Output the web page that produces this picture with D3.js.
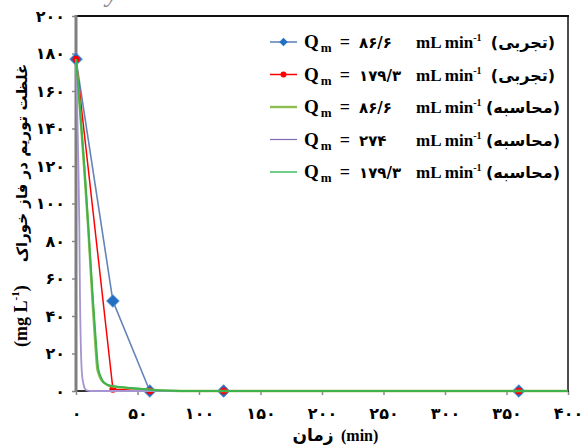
<!DOCTYPE html>
<html>
<head>
<meta charset="utf-8">
<script src="https://cdn.jsdelivr.net/npm/d3@7"></script>
<style>
  html, body { margin: 0; padding: 0; background: #fff; }
  svg { display: block; }
</style>
</head>
<body>
<svg id="chart" width="583" height="448"></svg>
<script>
// Thorium concentration in the feed phase vs. time
const xTicks = [0, 50, 100, 150, 200, 250, 300, 350, 400];
const yTicks = [0, 20, 40, 60, 80, 100, 120, 140, 160, 180, 200];

// experimental runs
const expTime = [0, 30, 60, 120, 360];
const exp86 = [177, 48, 0, 0, 0];
const exp179 = [177, 1, 0, 0, 0];

// calculated curves
const calc86Time = [0, 3, 6.5, 10, 13.5, 15.5, 17.3, 18.5, 20, 22, 24, 26, 30, 35, 45, 55, 70, 100, 200, 400];
const calc86 = [177, 152, 120, 86, 47, 27, 12, 9, 6.5, 4.8, 3.8, 3.0, 2.4, 2.0, 1.5, 0.9, 0.3, 0, 0, 0];
const calc274Time = [0, 1, 2, 2.7, 3.2, 4, 5, 6, 7, 8.7, 12, 400];
const calc274 = [177, 150, 118, 88, 52, 22, 8, 4, 1.5, 0.3, 0, 0];
const calc179Time = [0, 3, 6.7, 10, 13.8, 16, 17.8, 19, 20.5, 22, 24, 26, 30, 35, 45, 55, 70, 100, 200, 400];
const calc179 = [177, 153, 121, 88, 48.6, 28, 13, 9.5, 7, 5, 4, 3.2, 2.6, 2.2, 1.6, 1, 0.3, 0, 0, 0];

// legend entries
const legendQ = ["۸۶/۶", "۱۷۹/۳", "۸۶/۶", "۲۷۴", "۱۷۹/۳"];
const legendKind = ["(تجربی)", "(تجربی)", "(محاسبه)", "(محاسبه)", "(محاسبه)"];
const yTitle = "غلظت توریم در فاز خوراک";
const xTitle = "زمان";

const faDigits = s => String(s).replace(/\d/g, d => "۰۱۲۳۴۵۶۷۸۹"[+d]);

const svg = d3.select("#chart");
const L = 76, R = 568, T = 16, B = 391;
const x = d3.scaleLinear().domain([0, 400]).range([L, R]);
const y = d3.scaleLinear().domain([0, 200]).range([B, T]);

const digitFont = "'DejaVu Sans', sans-serif";
const serif = "'Liberation Serif', 'Times New Roman', serif";

// clipped caption fragment above the frame
svg.append("text").attr("x", 106).attr("y", 1)
  .attr("font-family", serif).attr("font-style", "italic").attr("font-size", 28)
  .attr("fill", "#8c8c8c").text("y");

// frame
svg.append("line").attr("x1", L).attr("x2", R + 1).attr("y1", T).attr("y2", T)
  .attr("stroke", "#111").attr("stroke-width", 2);
svg.append("line").attr("x1", R).attr("x2", R).attr("y1", T).attr("y2", B)
  .attr("stroke", "#111").attr("stroke-width", 1.5);

// axes
const yAxis = d3.axisLeft(y).tickValues(yTicks).tickSize(4).tickPadding(7)
  .tickFormat(faDigits);
const gy = svg.append("g").attr("transform", `translate(${L},0)`).call(yAxis);
gy.select(".domain").remove();
gy.selectAll(".tick line").attr("stroke", "#888").attr("stroke-width", 1.5);
gy.selectAll(".tick text").attr("font-family", digitFont).attr("font-weight", "bold")
  .attr("font-size", 16).attr("fill", "#000");

const xAxis = d3.axisBottom(x).tickValues(xTicks).tickSize(4).tickPadding(13)
  .tickFormat(faDigits);
const gx = svg.append("g").attr("transform", `translate(0,${B})`).call(xAxis);
gx.select(".domain").remove();
gx.selectAll(".tick line").attr("stroke", "#888").attr("stroke-width", 1.5);
gx.selectAll(".tick text").attr("font-family", digitFont).attr("font-weight", "bold")
  .attr("font-size", 16).attr("fill", "#000");

svg.append("line").attr("x1", L).attr("x2", R + 1).attr("y1", B).attr("y2", B)
  .attr("stroke", "#333").attr("stroke-width", 2);
svg.append("line").attr("x1", L).attr("x2", L).attr("y1", T - 1).attr("y2", B + 1)
  .attr("stroke", "#7f7f7f").attr("stroke-width", 3);

// series
const lineOf = (ts, vs, curve) => d3.line().x((d, i) => x(ts[i])).y(d => y(d)).curve(curve)(vs);

const cBlue = "#6484b8", cBlueMark = "#2370c2", cRed = "#ff0000",
      cOlive = "#8fbd52", cPurple = "#a594cf", cGreen = "#3fb24e";

const plot = svg.append("g");
plot.append("path").attr("d", lineOf(expTime, exp86, d3.curveLinear))
  .attr("fill", "none").attr("stroke", cBlue).attr("stroke-width", 1.6);
plot.selectAll(".dia").data(exp86).join("path")
  .attr("transform", (d, i) => `translate(${x(expTime[i])},${y(d)}) rotate(45)`)
  .attr("d", "M-4.5,-4.5H4.5V4.5H-4.5Z").attr("fill", cBlueMark)
  .attr("stroke", "#5b8fd0").attr("stroke-width", 0.8);

plot.append("path").attr("d", lineOf(expTime, exp179, d3.curveLinear))
  .attr("fill", "none").attr("stroke", cRed).attr("stroke-width", 1.5);
plot.selectAll(".dot").data(exp179).join("circle")
  .attr("cx", (d, i) => x(expTime[i])).attr("cy", d => y(d)).attr("r", 3.5)
  .attr("fill", cRed);

plot.append("path").attr("d", lineOf(calc86Time, calc86, d3.curveMonotoneX))
  .attr("fill", "none").attr("stroke", cOlive).attr("stroke-width", 2.4);
plot.append("path").attr("d", lineOf(calc274Time, calc274, d3.curveMonotoneX))
  .attr("fill", "none").attr("stroke", cPurple).attr("stroke-width", 1.8);
plot.append("path").attr("d", lineOf(calc179Time, calc179, d3.curveMonotoneX))
  .attr("fill", "none").attr("stroke", cGreen).attr("stroke-width", 2);

// legend
const legendColors = [cBlue, cRed, cOlive, "#7f6ab2", "#6fcf8a"];
const legendWidths = [1.6, 1.5, 2.4, 1.2, 2];
const lg = svg.append("g");
legendQ.forEach((q, i) => {
  const cy = 42 + i * 32.5;
  const g = lg.append("g");
  g.append("line").attr("x1", 270).attr("x2", 297).attr("y1", cy).attr("y2", cy)
    .attr("stroke", legendColors[i]).attr("stroke-width", legendWidths[i]);
  if (i === 0) {
    g.append("path").attr("transform", `translate(283.5,${cy}) rotate(45)`)
      .attr("d", "M-3,-3H3V3H-3Z").attr("fill", cBlueMark);
  } else if (i === 1) {
    g.append("circle").attr("cx", 283.5).attr("cy", cy).attr("r", 3).attr("fill", cRed);
  }
  const base = cy + 6;
  const t1 = g.append("text").attr("x", 304).attr("y", base)
    .attr("font-family", serif).attr("font-weight", "bold").attr("fill", "#000");
  t1.append("tspan").attr("font-size", 19).text("Q");
  t1.append("tspan").attr("font-size", 13).attr("dx", 2).attr("dy", 4).text("m");
  t1.append("tspan").attr("font-size", 18).attr("dx", 8).attr("dy", -4).text("=");
  g.append("text").attr("x", 359).attr("y", base)
    .attr("font-family", digitFont).attr("font-weight", "bold").attr("font-size", 15)
    .attr("fill", "#000").text(q);
  const t2 = g.append("text").attr("x", 416).attr("y", base)
    .attr("font-family", serif).attr("font-weight", "bold").attr("font-size", 17)
    .attr("fill", "#000");
  t2.append("tspan").text("mL min");
  t2.append("tspan").attr("font-size", 10).attr("dy", -7).text("-1");
  g.append("text").attr("x", 523).attr("y", base)
    .attr("text-anchor", "middle")
    .attr("font-family", digitFont).attr("font-weight", "bold").attr("font-size", 16)
    .attr("fill", "#000").text(legendKind[i]);
});

// axis titles
const xt = svg.append("g");
xt.append("text").attr("x", 341).attr("y", 441)
  .attr("font-family", serif).attr("font-weight", "bold").attr("font-size", 16)
  .attr("fill", "#000").text("(min)");
xt.append("text").attr("x", 313).attr("y", 441).attr("text-anchor", "middle")
  .attr("font-family", digitFont).attr("font-weight", "bold").attr("font-size", 17)
  .attr("fill", "#000").text(xTitle);

const yt = svg.append("g").attr("transform", "translate(27,0) rotate(-90)");
const yu = yt.append("text").attr("x", -347).attr("y", 0)
  .attr("font-family", serif).attr("font-weight", "bold").attr("font-size", 18)
  .attr("fill", "#000");
yu.append("tspan").text("(mg L");
yu.append("tspan").attr("font-size", 11).attr("dy", -8).text("-1");
yu.append("tspan").attr("dy", 8).text(")");
yt.append("text").attr("x", -163).attr("y", 0).attr("text-anchor", "middle")
  .attr("font-family", digitFont).attr("font-weight", "bold").attr("font-size", 15)
  .attr("fill", "#000").text(yTitle);
</script>
</body>
</html>
